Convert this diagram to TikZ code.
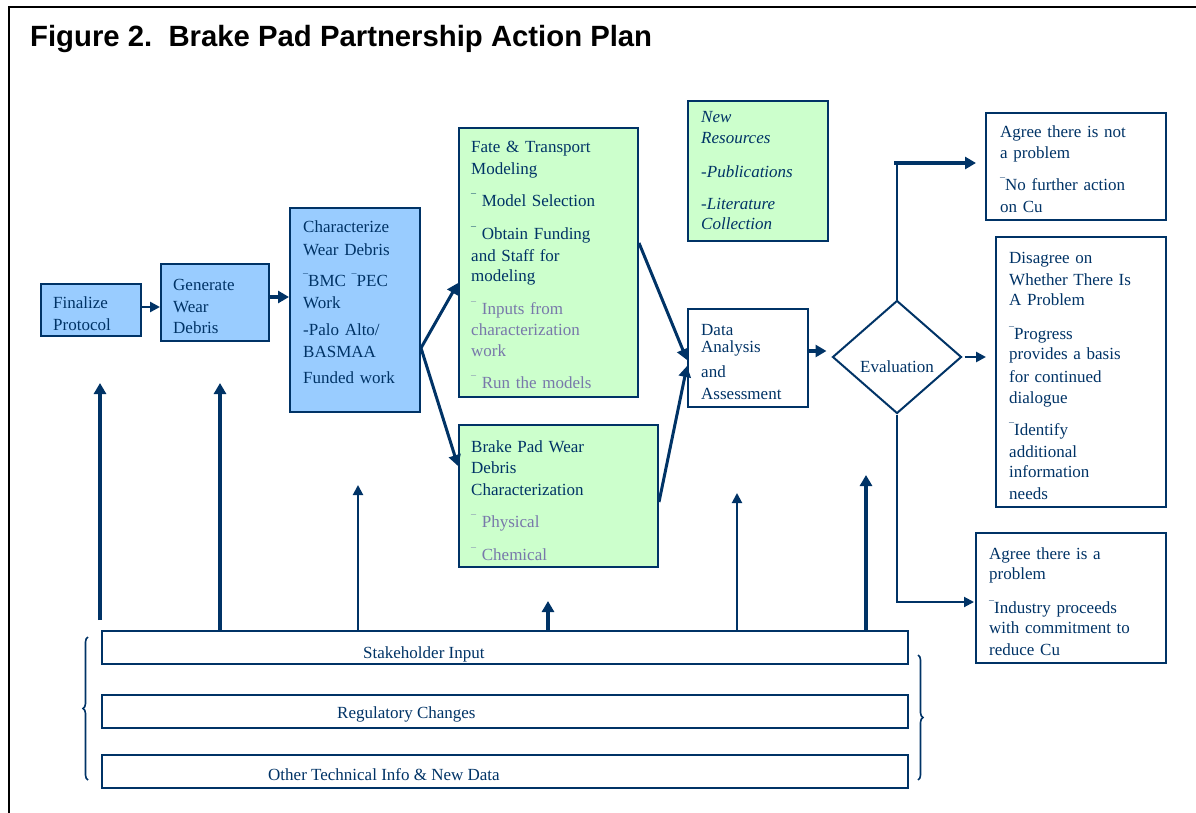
\documentclass[tikz,border=0pt]{standalone}
\usepackage{fontspec}
\setmainfont{Liberation Serif}
\newfontfamily\headfont{Liberation Sans}
\usetikzlibrary{arrows.meta,shapes.geometric,decorations.pathreplacing}
\definecolor{navy}{HTML}{003366}
\definecolor{boxblue}{HTML}{99CCFF}
\definecolor{boxgreen}{HTML}{CCFFCC}
\definecolor{softtext}{HTML}{7878AA}
% small raised bullet dash used in the lists
\newcommand{\itemmark}{\raisebox{5pt}{\fontsize{10}{10}\selectfont ¯}}

\begin{document}
\begin{tikzpicture}[x=1pt,y=-1pt,
  box/.style={draw=navy,line width=2pt,inner sep=0pt,anchor=north west},
  bluebox/.style={box,fill=boxblue},
  greenbox/.style={box,fill=boxgreen},
  whitebox/.style={box,fill=white},
  bar/.style={box,fill=white,minimum width=806pt,minimum height=33pt},
  txt/.style={anchor=base west,inner sep=0pt,align=left,text width=175pt,
              text=navy,font=\fontsize{17}{22}\selectfont},
  bartxt/.style={anchor=base west,inner sep=0pt,text=navy,font=\fontsize{17}{22}\selectfont},
  heavylink/.style={draw=navy,line width=3.5pt,-{Triangle[length=11pt,width=12pt]}},
  midlink/.style={draw=navy,line width=2.5pt,-{Triangle[length=10pt,width=10pt]}},
  thinlink/.style={draw=navy,line width=2pt,-{Triangle[length=10pt,width=10pt]}},
  plainline/.style={draw=navy,line width=2pt},
  bracket/.style={draw=navy,line width=1.6pt,decorate,decoration={brace,amplitude=5pt}}
]
\useasboundingbox (0,0) rectangle (1196,813);

% page frame and heading
\draw[black,line width=2.5pt] (9,813) -- (9,7) -- (1196,7);
\node[anchor=base west,inner sep=0pt,font=\headfont\bfseries\fontsize{29.3}{34}\selectfont] (title)
  at (30,47) {Figure 2.\ \ Brake Pad Partnership Action Plan};

% process boxes
\node[bluebox,minimum width=100pt,minimum height=52pt] (fin) at (40,283) {};
\node[bluebox,minimum width=108pt,minimum height=77pt] (gen) at (160,263) {};
\node[bluebox,minimum width=130pt,minimum height=204pt] (char) at (289,207) {};
\node[greenbox,minimum width=179pt,minimum height=269pt] (fate) at (458,127) {};
\node[greenbox,minimum width=199pt,minimum height=142pt] (brake) at (458,424) {};
\node[greenbox,minimum width=140pt,minimum height=140pt] (newres) at (687,100) {};
\node[whitebox,minimum width=120pt,minimum height=98pt] (data) at (687,308) {};
\node[draw=navy,line width=2pt,fill=white,diamond,aspect=1.14,inner sep=0pt,
      minimum width=129pt,minimum height=113pt] (eval) at (897,357) {};
\node[whitebox,minimum width=180pt,minimum height=107pt] (agn) at (985,112) {};
\node[whitebox,minimum width=170pt,minimum height=270pt] (dis) at (995,236) {};
\node[whitebox,minimum width=190pt,minimum height=130pt] (agp) at (975,532) {};

% input bars
\node[bar] (stake) at (101,630) {};
\node[bar] (reg) at (101,694) {};
\node[bar] (other) at (101,754) {};

% box texts
\node[txt] (fin-t) at (53,308) {Finalize\\Protocol};
\node[txt] (gen-t) at (173,290) {Generate\\Wear\\[-1pt]Debris};
\node[txt] (char-t) at (303,233) {Characterize\\Wear Debris\\[10pt]\itemmark BMC \itemmark PEC\\Work\\[4pt]-Palo Alto/\\BASMAA\\[4pt]Funded work};
\node[txt] (fate-t) at (471,153) {Fate \& Transport\\Modeling\\[10pt]\itemmark\ Model Selection\\[11pt]\itemmark\ Obtain Funding\\and Staff for\\[-2pt]modeling\\[11pt]\color{softtext}\itemmark\ Inputs from\\[-1pt]characterization\\[-1pt]work\\[10pt]\itemmark\ Run the models};
\node[txt] (brake-t) at (471,452) {Brake Pad Wear\\[-1pt]Debris\\Characterization\\[10pt]\color{softtext}\itemmark\ Physical\\[11pt]\itemmark\ Chemical};
\node[txt,font=\itshape\fontsize{17}{20.5}\selectfont] (newres-t) at (701,123) {New\\Resources\\[13.5pt]-Publications\\[11.5pt]-Literature\\Collection};
\node[txt] (data-t) at (701,335) {Data\\[-5pt]Analysis\\[3pt]and\\Assessment};
\node[bartxt] (eval-t) at (897,372) [anchor=base] {Evaluation};
\node[txt] (agn-t) at (1000,138) {Agree there is not\\[-1pt]a problem\\[10pt]\itemmark No further action\\on Cu};
\node[txt] (dis-t) at (1009,263) {Disagree on\\Whether There Is\\[-2pt]A Problem\\[12pt]\itemmark Progress\\[-2pt]provides a basis\\[1pt]for continued\\[-1pt]dialogue\\[10pt]\itemmark Identify\\additional\\[-2pt]information\\needs};
\node[txt] (agp-t) at (989,559) {Agree there is a\\[-2pt]problem\\[12pt]\itemmark Industry proceeds\\[-2pt]with commitment to\\reduce Cu};
\node[bartxt] (stake-t) at (363,658) {Stakeholder Input};
\node[bartxt] (reg-t) at (337,718) {Regulatory Changes};
\node[bartxt] (other-t) at (268,780) {Other Technical Info \& New Data};

% main flow
\draw[midlink] (fin.east |- 0,307) -- (gen.west |- 0,307);
\draw[heavylink] (gen.east |- 0,297) -- (char.west |- 0,297);
\draw[heavylink,line width=3pt] (char.east |- 0,348) -- (fate.west |- 0,283);
\draw[heavylink,line width=3pt] (char.east |- 0,348) -- (brake.west |- 0,466);
\draw[heavylink,line width=3pt] (fate.east |- 0,243) -- (data.west |- 0,360);
\draw[heavylink,line width=3pt] (brake.east |- 0,502) -- (data.west |- 0,366);
\draw[heavylink] (data.east |- 0,351) -- ([xshift=-5pt]eval.west |- 0,351);
\draw[midlink,shorten <=2pt,shorten >=9pt] (eval.east) -- (dis.west |- eval.east);

% outcome branches
\coordinate (upturn) at (eval.north |- 0,163);
\draw[plainline] (eval.north) -- (upturn);
\draw[heavylink,shorten >=9pt] ([xshift=-3pt]upturn) -- (agn.west |- upturn);
\draw[thinlink,shorten >=1pt] (eval.south) |- (agp.west |- 0,602);

% feedback from stakeholder input
\draw[heavylink,shorten <=10pt] (stake.north -| 100,0) -- (100,383);
\draw[heavylink] (stake.north -| 220,0) -- (220,383);
\draw[thinlink] (stake.north -| 358,0) -- (358,485);
\draw[heavylink] (stake.north -| 548,0) -- (548,601);
\draw[thinlink] (stake.north -| 737,0) -- (737,493);
\draw[heavylink] (stake.north -| 866,0) -- (866,475);

% grouping braces
\draw[bracket] (88,780) -- (88,637);
\draw[bracket] (918,655) -- (918,780);
\end{tikzpicture}
\end{document}
